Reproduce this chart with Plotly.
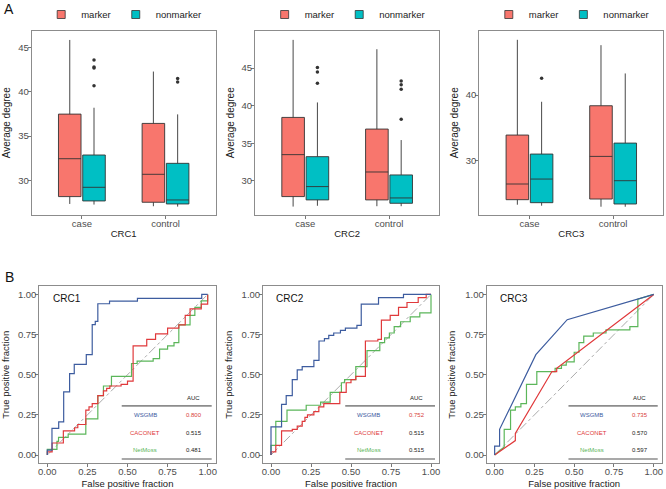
import plotly.graph_objects as go

FONT = "Liberation Sans, Arial, sans-serif"
W, H = 666, 489

# ---------------- Panel A data (order of values: case, control) ----------------
categories = ["case", "control"]
box_groups = ["marker", "nonmarker"]
datasets = ["CRC1", "CRC2", "CRC3"]

crc1_marker_lower = [27.33, 27.07]
crc1_marker_q1 = [28.16, 27.52]
crc1_marker_median = [32.44, 30.68]
crc1_marker_q3 = [37.48, 36.43]
crc1_marker_upper = [45.86, 42.29]
crc1_nonmarker_lower = [27.26, 27.03]
crc1_nonmarker_q1 = [27.67, 27.33]
crc1_nonmarker_median = [29.21, 27.78]
crc1_nonmarker_q3 = [32.86, 31.92]
crc1_nonmarker_upper = [38.2, 37.45]
crc1_nonmarker_outliers = [[43.6, 42.8, 42.7, 40.7], [41.5, 41.1]]

crc2_marker_lower = [26.59, 26.64]
crc2_marker_q1 = [27.92, 27.48]
crc2_marker_median = [33.50, 31.19]
crc2_marker_q3 = [38.45, 36.90]
crc2_marker_upper = [48.76, 47.52]
crc2_nonmarker_lower = [26.70, 26.64]
crc2_nonmarker_q1 = [27.48, 27.03]
crc2_nonmarker_median = [29.25, 27.74]
crc2_nonmarker_q3 = [33.23, 30.80]
crc2_nonmarker_upper = [40.44, 35.44]
crc2_nonmarker_outliers = [[45.1, 44.5, 43.0], [43.3, 42.8, 42.2, 38.2]]

crc3_marker_lower = [23.21, 22.90]
crc3_marker_q1 = [23.98, 24.08]
crc3_marker_median = [26.38, 30.61]
crc3_marker_q3 = [33.88, 38.37]
crc3_marker_upper = [48.47, 47.65]
crc3_nonmarker_lower = [23.06, 22.90]
crc3_nonmarker_q1 = [23.52, 23.32]
crc3_nonmarker_median = [27.14, 26.89]
crc3_nonmarker_q3 = [30.97, 32.65]
crc3_nonmarker_upper = [38.98, 43.32]
crc3_nonmarker_outliers = [[42.6], []]

# ---------------- Panel B data: ROC curves ----------------
models = ["WSGMB", "CACONET", "NetMoss"]

crc1_wsgmb_fpr = [0, 0, 0.029, 0.029, 0.071, 0.071, 0.102, 0.102, 0.139, 0.139, 0.168, 0.168, 0.243, 0.243,
                  0.28, 0.28, 0.299, 0.299, 0.315, 0.315, 0.388, 0.388, 0.562, 0.562, 0.963, 0.963, 1.0]
crc1_wsgmb_tpr = [0, 0.03, 0.03, 0.166, 0.166, 0.207, 0.207, 0.393, 0.393, 0.507, 0.507, 0.565, 0.565, 0.625,
                  0.625, 0.812, 0.812, 0.832, 0.832, 0.942, 0.942, 0.958, 0.958, 0.975, 0.975, 1.0, 1.0]
crc1_caconet_fpr = [0, 0, 0.03, 0.03, 0.10, 0.10, 0.17, 0.17, 0.19, 0.19, 0.24, 0.24, 0.26, 0.26, 0.28, 0.28,
                    0.315, 0.315, 0.35, 0.35, 0.37, 0.37, 0.39, 0.39, 0.46, 0.46, 0.50, 0.50, 0.535, 0.535,
                    0.62, 0.62, 0.675, 0.675, 0.75, 0.75, 0.82, 0.82, 0.86, 0.86, 0.89, 0.89, 0.96, 0.96, 1.0, 1.0]
crc1_caconet_tpr = [0, 0.02, 0.02, 0.075, 0.075, 0.15, 0.15, 0.17, 0.17, 0.19, 0.19, 0.28, 0.28, 0.30, 0.30, 0.32,
                    0.32, 0.37, 0.37, 0.40, 0.40, 0.415, 0.415, 0.43, 0.43, 0.44, 0.44, 0.46, 0.46, 0.68,
                    0.68, 0.72, 0.72, 0.755, 0.755, 0.79, 0.79, 0.81, 0.81, 0.87, 0.87, 0.91, 0.91, 0.94, 0.94, 1.0]
crc1_netmoss_fpr = [0, 0, 0.06, 0.06, 0.07, 0.07, 0.13, 0.13, 0.24, 0.24, 0.315, 0.315, 0.35, 0.35, 0.40, 0.40,
                    0.525, 0.525, 0.56, 0.56, 0.66, 0.66, 0.70, 0.70, 0.75, 0.75, 0.79, 0.79, 0.82, 0.82,
                    0.89, 0.89, 0.92, 0.92, 0.96, 0.96, 1.0, 1.0]
crc1_netmoss_tpr = [0, 0.035, 0.035, 0.085, 0.085, 0.11, 0.11, 0.13, 0.13, 0.225, 0.225, 0.37, 0.37, 0.43, 0.43,
                    0.49, 0.49, 0.57, 0.57, 0.585, 0.585, 0.60, 0.60, 0.66, 0.66, 0.68, 0.68, 0.70, 0.70,
                    0.81, 0.81, 0.87, 0.87, 0.92, 0.92, 0.96, 0.96, 1.0]

crc2_wsgmb_fpr = [0, 0, 0.066, 0.066, 0.095, 0.095, 0.133, 0.133, 0.164, 0.164, 0.195, 0.195, 0.268, 0.268,
                  0.3, 0.3, 0.334, 0.334, 0.361, 0.361, 0.392, 0.392, 0.434, 0.434, 0.465, 0.465, 0.537, 0.537,
                  0.564, 0.564, 0.672, 0.672, 0.828, 0.828, 1.0]
crc2_wsgmb_tpr = [0, 0.175, 0.175, 0.315, 0.315, 0.37, 0.37, 0.47, 0.47, 0.53, 0.53, 0.55, 0.55, 0.59,
                  0.59, 0.71, 0.71, 0.725, 0.725, 0.745, 0.745, 0.76, 0.76, 0.776, 0.776, 0.79, 0.79, 0.807,
                  0.807, 0.94, 0.94, 0.98, 0.98, 1.0, 1.0]
crc2_caconet_fpr = [0, 0, 0.03, 0.03, 0.066, 0.066, 0.133, 0.133, 0.164, 0.164, 0.195, 0.195, 0.212, 0.212,
                    0.228, 0.228, 0.268, 0.268, 0.299, 0.299, 0.33, 0.33, 0.43, 0.43, 0.47, 0.47, 0.50, 0.50,
                    0.53, 0.53, 0.59, 0.59, 0.668, 0.668, 0.69, 0.69, 0.745, 0.745, 0.797, 0.797, 0.85, 0.85,
                    0.92, 0.92, 0.97, 0.97, 1.0]
crc2_caconet_tpr = [0, 0.02, 0.02, 0.06, 0.06, 0.15, 0.15, 0.16, 0.16, 0.18, 0.18, 0.21, 0.21, 0.235,
                    0.235, 0.25, 0.25, 0.27, 0.27, 0.30, 0.30, 0.32, 0.32, 0.39, 0.39, 0.45, 0.45, 0.47,
                    0.47, 0.49, 0.49, 0.71, 0.71, 0.72, 0.72, 0.84, 0.84, 0.87, 0.87, 0.92, 0.92, 0.95,
                    0.95, 0.98, 0.98, 1.0, 1.0]
crc2_netmoss_fpr = [0, 0, 0.03, 0.03, 0.1, 0.1, 0.22, 0.22, 0.31, 0.31, 0.37, 0.37, 0.44, 0.44, 0.46, 0.46,
                    0.53, 0.53, 0.6, 0.6, 0.68, 0.68, 0.71, 0.71, 0.74, 0.74, 0.77, 0.77, 0.81, 0.81,
                    0.87, 0.87, 0.93, 0.93, 1.0, 1.0]
crc2_netmoss_tpr = [0, 0.06, 0.06, 0.21, 0.21, 0.28, 0.28, 0.31, 0.31, 0.33, 0.33, 0.39, 0.39, 0.45, 0.45,
                    0.47, 0.47, 0.55, 0.55, 0.65, 0.65, 0.70, 0.70, 0.73, 0.73, 0.76, 0.76, 0.80, 0.80,
                    0.83, 0.83, 0.86, 0.86, 0.885, 0.885, 1.0]

crc3_wsgmb_fpr = [0, 0, 0.031, 0.031, 0.259, 0.456, 1.0]
crc3_wsgmb_tpr = [0, 0.056, 0.056, 0.16, 0.625, 0.843, 1.0]
crc3_caconet_fpr = [0, 0.13, 0.13, 0.36, 0.39, 0.39, 1.0]
crc3_caconet_tpr = [0, 0.09, 0.135, 0.52, 0.52, 0.54, 1.0]
crc3_netmoss_fpr = [0, 0.06, 0.06, 0.1, 0.1, 0.13, 0.13, 0.165, 0.165, 0.2, 0.2, 0.265, 0.265, 0.38, 0.38,
                    0.42, 0.42, 0.45, 0.45, 0.5, 0.5, 0.53, 0.53, 0.56, 0.56, 0.62, 0.62, 0.7, 0.7, 0.85,
                    0.85, 0.9, 0.9, 1.0]
crc3_netmoss_tpr = [0, 0.05, 0.16, 0.16, 0.28, 0.28, 0.30, 0.30, 0.32, 0.32, 0.44, 0.44, 0.52, 0.52, 0.54,
                    0.54, 0.56, 0.56, 0.58, 0.58, 0.64, 0.64, 0.70, 0.70, 0.74, 0.74, 0.76, 0.76, 0.78, 0.78,
                    0.80, 0.80, 0.97, 1.0]

auc_wsgmb = [0.800, 0.752, 0.735]
auc_caconet = [0.515, 0.515, 0.570]
auc_netmoss = [0.481, 0.515, 0.597]

y_ticks_top = [[30, 35, 40, 45], [30, 35, 40, 45], [30, 40]]
roc_ticks = [0, 0.25, 0.5, 0.75, 1.0]

# ---------------- styling ----------------
box_fill = {"marker": "#F8766D", "nonmarker": "#00BFC4"}
model_color = {"WSGMB": "#3D5C9F", "CACONET": "#E0393B", "NetMoss": "#5BB65A"}
auc_text_color = {"WSGMB": "#D8403A", "CACONET": "#222222", "NetMoss": "#222222"}
FRAME = "#8C8C8C"
TICKC = "#555555"
TICKF = "#4D4D4D"

def px_x(a, b):
    return [a / W, b / W]

def px_y(top, bottom):
    return [1 - bottom / H, 1 - top / H]

top_domains_x = [px_x(31.7, 215.7), px_x(255.0, 439.3), px_x(479.3, 663.3)]
top_domain_y = px_y(30, 214)
top_ranges = [[26.13, 46.88], [25.53, 49.95], [21.70, 49.83]]
bot_domains_x = [px_x(39.3, 215.7), px_x(263.0, 439.0), px_x(486.7, 661.7)]
bot_domain_y = px_y(286, 463)

stats = {
    "CRC1": {
        "marker": (crc1_marker_lower, crc1_marker_q1, crc1_marker_median, crc1_marker_q3, crc1_marker_upper, None),
        "nonmarker": (crc1_nonmarker_lower, crc1_nonmarker_q1, crc1_nonmarker_median, crc1_nonmarker_q3,
                      crc1_nonmarker_upper, crc1_nonmarker_outliers),
    },
    "CRC2": {
        "marker": (crc2_marker_lower, crc2_marker_q1, crc2_marker_median, crc2_marker_q3, crc2_marker_upper, None),
        "nonmarker": (crc2_nonmarker_lower, crc2_nonmarker_q1, crc2_nonmarker_median, crc2_nonmarker_q3,
                      crc2_nonmarker_upper, crc2_nonmarker_outliers),
    },
    "CRC3": {
        "marker": (crc3_marker_lower, crc3_marker_q1, crc3_marker_median, crc3_marker_q3, crc3_marker_upper, None),
        "nonmarker": (crc3_nonmarker_lower, crc3_nonmarker_q1, crc3_nonmarker_median, crc3_nonmarker_q3,
                      crc3_nonmarker_upper, crc3_nonmarker_outliers),
    },
}
roc = {
    "CRC1": {"WSGMB": (crc1_wsgmb_fpr, crc1_wsgmb_tpr), "CACONET": (crc1_caconet_fpr, crc1_caconet_tpr),
             "NetMoss": (crc1_netmoss_fpr, crc1_netmoss_tpr)},
    "CRC2": {"WSGMB": (crc2_wsgmb_fpr, crc2_wsgmb_tpr), "CACONET": (crc2_caconet_fpr, crc2_caconet_tpr),
             "NetMoss": (crc2_netmoss_fpr, crc2_netmoss_tpr)},
    "CRC3": {"WSGMB": (crc3_wsgmb_fpr, crc3_wsgmb_tpr), "CACONET": (crc3_caconet_fpr, crc3_caconet_tpr),
             "NetMoss": (crc3_netmoss_fpr, crc3_netmoss_tpr)},
}
auc = {"WSGMB": auc_wsgmb, "CACONET": auc_caconet, "NetMoss": auc_netmoss}

fig = go.Figure()
legend_names = ["legend", "legend2", "legend3"]

# ---- Panel A boxes ----
for i, ds in enumerate(datasets):
    xa, ya = (f"x{i + 1}", f"y{i + 1}") if i else ("x", "y")
    for g in box_groups:
        lo, q1, med, q3, hi, outl = stats[ds][g]
        if outl is not None:
            kw = dict(y=outl, boxpoints="outliers", jitter=0, pointpos=0)
        else:
            kw = dict(boxpoints=False)
        fig.add_trace(go.Box(
            x=categories, q1=q1, median=med, q3=q3, lowerfence=lo, upperfence=hi,
            name=g, offsetgroup=g, legendgroup=f"{ds}-{g}", fillcolor=box_fill[g],
            line=dict(color="#333333", width=0.9), whiskerwidth=0,
            marker=dict(color="#333333", size=3.5, line=dict(width=0)),
            showlegend=False, hoverinfo="skip",
            xaxis=xa, yaxis=ya, **kw))
        # legend key (small box glyph) linked to the box trace above
        fig.add_trace(go.Scatter(
            x=[None], y=[None], mode="markers", name=g, legendgroup=f"{ds}-{g}",
            marker=dict(symbol="square", size=8, color=box_fill[g], line=dict(color="#333333", width=0.8)),
            legend=legend_names[i], showlegend=True, hoverinfo="skip", xaxis=xa, yaxis=ya))

# ---- Panel B ROC ----
for i, ds in enumerate(datasets):
    xa, ya = f"x{i + 4}", f"y{i + 4}"
    fig.add_trace(go.Scatter(x=[0, 1], y=[0, 1], mode="lines",
                             line=dict(color="#A0A0A0", width=0.9, dash="dashdot"),
                             showlegend=False, hoverinfo="skip", xaxis=xa, yaxis=ya))
    for m in ["NetMoss", "CACONET", "WSGMB"]:
        fx, ty = roc[ds][m]
        fig.add_trace(go.Scatter(x=fx, y=ty, mode="lines", name=m,
                                 line=dict(color=model_color[m], width=1.2),
                                 showlegend=False, xaxis=xa, yaxis=ya))

layout = dict(
    width=W, height=H, margin=dict(l=0, r=0, t=0, b=0),
    paper_bgcolor="white", plot_bgcolor="white",
    font=dict(family=FONT, size=9.5, color="#1a1a1a"),
    boxmode="group", boxgap=0.42, boxgroupgap=0.07,
    template="none",
)

def axis_common():
    return dict(showline=True, mirror=True, linecolor=FRAME, linewidth=1,
                ticks="outside", ticklen=3, tickwidth=0.8, tickcolor=TICKC,
                tickfont=dict(size=9.5, color=TICKF, family=FONT), ticklabelstandoff=-3,
                showgrid=False, zeroline=False, automargin=False)

for i, ds in enumerate(datasets):
    sx = "" if i == 0 else str(i + 1)
    xa = axis_common()
    xa.update(domain=top_domains_x[i], type="category", categoryorder="array",
              categoryarray=categories, range=[-0.6, 1.6], anchor="y" + sx,
              title=dict(text=ds, font=dict(size=9.5, color="#1a1a1a"), standoff=2))
    ya = axis_common()
    ya.update(domain=top_domain_y, range=top_ranges[i], tickvals=y_ticks_top[i], anchor="x" + sx,
              title=dict(text="Average degree", font=dict(size=10, color="#1a1a1a"), standoff=5))
    layout["xaxis" + sx] = xa
    layout["yaxis" + sx] = ya

    sb = str(i + 4)
    xb = axis_common()
    xb.update(domain=bot_domains_x[i], range=[-0.05, 1.05], tickvals=roc_ticks, tickformat=".2f",
              anchor="y" + sb,
              title=dict(text="False positive fraction", font=dict(size=9.5, color="#1a1a1a"), standoff=6))
    yb = axis_common()
    yb.update(domain=bot_domain_y, range=[-0.05, 1.05], tickvals=roc_ticks, tickformat=".2f",
              anchor="x" + sb,
              title=dict(text="True positive fraction", font=dict(size=9.5, color="#1a1a1a"), standoff=7))
    layout["xaxis" + sb] = xb
    layout["yaxis" + sb] = yb

    cx = (top_domains_x[i][0] + top_domains_x[i][1]) / 2
    layout[legend_names[i]] = dict(orientation="h", x=cx, xanchor="center", y=1 - 14 / H, yanchor="middle",
                                   font=dict(size=9.5, family=FONT, color="#222222"),
                                   bgcolor="rgba(0,0,0,0)", itemwidth=30, tracegroupgap=0)

fig.update_layout(**layout)

annotations = [
    dict(text="A", xref="paper", yref="paper", x=2 / W, y=1 - 8 / H, xanchor="left", yanchor="middle",
         showarrow=False, font=dict(size=14, color="#111111")),
    dict(text="B", xref="paper", yref="paper", x=3 / W, y=1 - 277 / H, xanchor="left", yanchor="middle",
         showarrow=False, font=dict(size=14, color="#111111")),
]
shapes = []
row_y = [0.248, 0.138, 0.029]
for i, ds in enumerate(datasets):
    xr, yr = f"x{i + 4}", f"y{i + 4}"
    annotations.append(dict(text=ds, xref=xr, yref=yr, x=0.02, y=0.972, xanchor="left", yanchor="middle",
                            showarrow=False, font=dict(size=10, color="#111111")))
    annotations.append(dict(text="AUC", xref=xr, yref=yr, x=0.91, y=0.358, xanchor="center", yanchor="middle",
                            showarrow=False, font=dict(size=6, color="#222222")))
    for m, yy in zip(models, row_y):
        annotations.append(dict(text=m, xref=xr, yref=yr, x=0.61, y=yy, xanchor="center", yanchor="middle",
                                showarrow=False, font=dict(size=6, color=model_color[m])))
        annotations.append(dict(text=f"{auc[m][i]:.3f}", xref=xr, yref=yr, x=0.915, y=yy, xanchor="center",
                                yanchor="middle", showarrow=False, font=dict(size=6, color=auc_text_color[m])))
    for yy in (0.306, -0.025):
        shapes.append(dict(type="line", xref=xr, yref=yr, x0=0.464, x1=1.025, y0=yy, y1=yy,
                           line=dict(color="#8C8C8C", width=1.6)))

fig.update_layout(annotations=annotations, shapes=shapes)
fig.write_html("out.html",
               config={"displayModeBar": False, "staticPlot": True},
               post_script="document.body.style.margin='0';document.body.style.padding='0';"
                           "document.body.style.overflow='hidden';")
